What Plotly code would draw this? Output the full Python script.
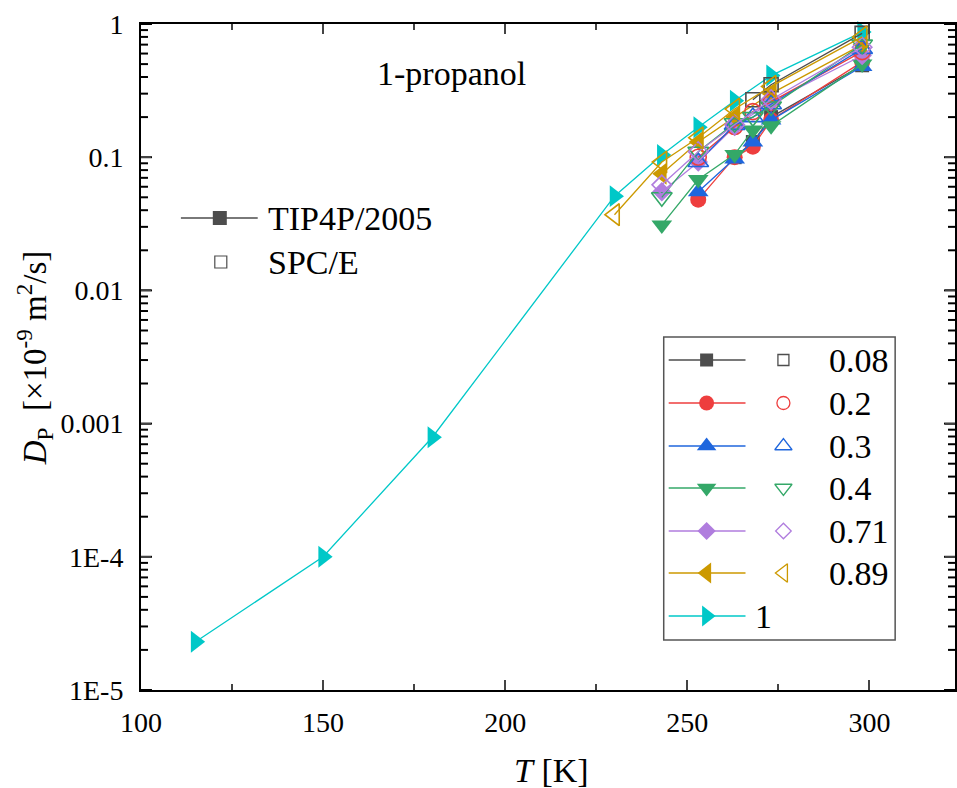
import math
import plotly.graph_objects as go

# ---------------- data ----------------
fractions = ["0.08", "0.2", "0.3", "0.4", "0.71", "0.89", "1"]
colors = ["#4D4D4D", "#EE3E3E", "#1F66DD", "#34A868", "#B07DDE", "#CC9900", "#00C8C8"]
sym_filled = ["square", "circle", "triangle-up", "triangle-down", "diamond", "triangle-left", "triangle-right"]
sym_open = ["square-open", "circle-open", "triangle-up-open", "triangle-down-open", "diamond-open", "triangle-left-open", "triangle-right-open"]
msizes = [14, 16, 18, 18, 15, 19, 19]

# TIP4P/2005 (filled)
T_tip_008 = [263, 268, 273, 298]
D_tip_008 = [0.10, 0.13, 0.20, 0.49]
T_tip_02 = [253, 263, 268, 273, 298]
D_tip_02 = [0.048, 0.100, 0.120, 0.19, 0.52]
T_tip_03 = [253, 263, 268, 273, 298]
D_tip_03 = [0.055, 0.097, 0.130, 0.19, 0.48]
T_tip_04 = [243, 253, 263, 268, 273, 298]
D_tip_04 = [0.031, 0.068, 0.105, 0.160, 0.172, 0.50]
T_tip_071 = [243, 253, 263, 273, 298]
D_tip_071 = [0.055, 0.092, 0.17, 0.26, 0.58]
T_tip_089 = [243, 253, 263, 273, 298]
D_tip_089 = [0.075, 0.13, 0.20, 0.30, 0.70]
T_tip_1 = [115, 150, 180, 230, 243, 253, 263, 273, 298]
D_tip_1 = [2.3e-5, 1.0e-4, 7.9e-4, 0.051, 0.104, 0.168, 0.265, 0.41, 0.87]

# SPC/E (open)
T_spc_008 = [268, 273, 298]
D_spc_008 = [0.27, 0.35, 0.85]
T_spc_02 = [253, 263, 268, 273, 298]
D_spc_02 = [0.100, 0.170, 0.22, 0.26, 0.62]
T_spc_03 = [253, 263, 268, 273, 298]
D_spc_03 = [0.092, 0.175, 0.20, 0.25, 0.65]
T_spc_04 = [243, 253, 263, 268, 273, 298]
D_spc_04 = [0.050, 0.110, 0.180, 0.20, 0.24, 0.70]
T_spc_071 = [243, 253, 263, 273, 298]
D_spc_071 = [0.062, 0.110, 0.175, 0.27, 0.67]
T_spc_089 = [230, 243, 253, 263, 273, 298]
D_spc_089 = [0.037, 0.092, 0.14, 0.23, 0.34, 0.80]

tip_T = [T_tip_008, T_tip_02, T_tip_03, T_tip_04, T_tip_071, T_tip_089, T_tip_1]
tip_D = [D_tip_008, D_tip_02, D_tip_03, D_tip_04, D_tip_071, D_tip_089, D_tip_1]
spc_T = [T_spc_008, T_spc_02, T_spc_03, T_spc_04, T_spc_071, T_spc_089]
spc_D = [D_spc_008, D_spc_02, D_spc_03, D_spc_04, D_spc_071, D_spc_089]

x_ticks = [100, 150, 200, 250, 300]
y_ticks = [1e-5, 1e-4, 1e-3, 1e-2, 1e-1, 1]
y_ticktext = ["1E-5", "1E-4", "0.001", "0.01", "0.1", "1"]
y_minor = [m * 10.0 ** e for e in range(-5, 0) for m in range(2, 10)]

FONT = "Liberation Serif, Times New Roman, serif"
W, H = 957, 788
L, R, T, B = 141, 0, 24, 98
PW, PH = W - L - R, H - T - B
Y_LOG_MIN, Y_LOG_MAX = -5, 0


def px_x(p):
    return (p - L) / PW


def px_y(p):
    return (H - B - p) / PH


def val_to_py(v):
    return T + (Y_LOG_MAX - math.log10(v)) / (Y_LOG_MAX - Y_LOG_MIN) * PH


fig = go.Figure()

# ---------- y-axis tick marks (major + minor, left + mirrored right) ----------
tx, ty = [], []
for v in y_ticks + y_minor:
    ln = 11 if v in y_ticks else 7
    py = val_to_py(v)
    tx += [L, L + ln, None, W - R - ln, W - R, None]
    ty += [py, py, None, py, py, None]
fig.add_trace(go.Scatter(x=tx, y=ty, xaxis="x2", yaxis="y2", mode="lines",
                         line=dict(color="black", width=2), showlegend=False,
                         hoverinfo="skip", cliponaxis=False, connectgaps=False))

for i in range(len(tip_T)):
    fig.add_trace(go.Scatter(
        x=tip_T[i], y=tip_D[i], mode="lines+markers",
        line=dict(color=colors[i], width=1.3),
        marker=dict(symbol=sym_filled[i], size=msizes[i], color=colors[i], opacity=1, line=dict(width=0)),
        showlegend=False, cliponaxis=False))
for i in range(len(spc_T)):
    fig.add_trace(go.Scatter(
        x=spc_T[i], y=spc_D[i], mode="lines+markers",
        line=dict(color=colors[i], width=1.3),
        marker=dict(symbol=sym_open[i], size=msizes[i], color=colors[i], line=dict(width=1.6, color=colors[i])),
        showlegend=False, cliponaxis=False))

# ---------- manual legends on a pixel overlay axis ----------
row_y = [360, 403, 446, 488, 531, 573, 616]
for i in range(7):
    fig.add_trace(go.Scatter(
        x=[670, 747], y=[row_y[i]] * 2, xaxis="x2", yaxis="y2",
        mode="lines", line=dict(color=colors[i], width=1.3),
        showlegend=False, hoverinfo="skip"))
    fig.add_trace(go.Scatter(
        x=[708], y=[row_y[i]], xaxis="x2", yaxis="y2", mode="markers",
        marker=dict(symbol=sym_filled[i], size=msizes[i] - 1, color=colors[i], opacity=1, line=dict(width=0)),
        showlegend=False, hoverinfo="skip"))
    if i < 6:
        fig.add_trace(go.Scatter(
            x=[785], y=[row_y[i]], xaxis="x2", yaxis="y2", mode="markers",
            marker=dict(symbol=sym_open[i], size=msizes[i] - 3, color=colors[i], line=dict(width=1.3, color=colors[i])),
            showlegend=False, hoverinfo="skip"))
        fig.add_annotation(x=829, y=row_y[i], xref="x2", yref="y2", text=fractions[i],
                           showarrow=False, xanchor="left", yanchor="middle",
                           font=dict(family=FONT, size=34, color="black"))
    else:
        fig.add_annotation(x=754, y=row_y[i], xref="x2", yref="y2", text=fractions[i],
                           showarrow=False, xanchor="left", yanchor="middle",
                           font=dict(family=FONT, size=34, color="black"))

fig.add_shape(type="rect", xref="x2", yref="y2", x0=665, x1=897, y0=337, y1=640,
              line=dict(color="#555555", width=1.5), fillcolor="rgba(0,0,0,0)")

# model legend
fig.add_trace(go.Scatter(
    x=[181, 258], y=[218] * 2, xaxis="x2", yaxis="y2", mode="lines",
    line=dict(color="#4D4D4D", width=1.3), showlegend=False, hoverinfo="skip"))
fig.add_trace(go.Scatter(
    x=[220], y=[218], xaxis="x2", yaxis="y2", mode="markers",
    marker=dict(symbol="square", size=14, color="#4D4D4D", opacity=1, line=dict(width=0)),
    showlegend=False, hoverinfo="skip"))
fig.add_trace(go.Scatter(
    x=[221], y=[262], xaxis="x2", yaxis="y2", mode="markers",
    marker=dict(symbol="square-open", size=12, color="#4D4D4D", line=dict(width=1.2, color="#4D4D4D")),
    showlegend=False, hoverinfo="skip"))
fig.add_annotation(x=266, y=218, xref="x2", yref="y2", text="TIP4P/2005", showarrow=False,
                   xanchor="left", yanchor="middle", font=dict(family=FONT, size=34, color="black"))
fig.add_annotation(x=266, y=262, xref="x2", yref="y2", text="SPC/E", showarrow=False,
                   xanchor="left", yanchor="middle", font=dict(family=FONT, size=34, color="black"))

fig.add_annotation(x=452, y=73, xref="x2", yref="y2", text="1-propanol", showarrow=False,
                   xanchor="center", yanchor="middle", font=dict(family=FONT, size=34, color="black"))

# axis titles (paper coordinates)
fig.add_annotation(x=px_x(553), y=px_y(770), xref="paper", yref="paper", text="<i>T</i> [K]",
                   showarrow=False, xanchor="center", yanchor="middle",
                   font=dict(family=FONT, size=34, color="black"))
fig.add_annotation(x=px_x(34), y=px_y(358), xref="paper", yref="paper",
                   text="<i>D</i><sub>P</sub>  [×10<sup>-9</sup> m<sup>2</sup>/s]",
                   textangle=-90, showarrow=False, xanchor="center", yanchor="middle",
                   font=dict(family=FONT, size=33, color="black"))

fig.update_layout(
    width=W, height=H,
    margin=dict(l=L, r=R, t=T, b=B),
    paper_bgcolor="white", plot_bgcolor="white",
    font=dict(family=FONT, color="black"),
    xaxis=dict(range=[100, 323.5], tickvals=x_ticks, ticks="inside", ticklen=10, tickwidth=2,
               showline=True, linewidth=2, linecolor="black", mirror="ticks", showgrid=False,
               zeroline=False, tickfont=dict(family=FONT, size=28, color="black"),
               ticklabelstandoff=6,
               minor=dict(ticks="inside", ticklen=6, tickwidth=2, dtick=25, tick0=100, showgrid=False)),
    yaxis=dict(type="log", range=[Y_LOG_MIN, Y_LOG_MAX], tickvals=y_ticks, ticktext=y_ticktext,
               ticks="inside", ticklen=10, tickwidth=2, showline=True, linewidth=2,
               linecolor="black", mirror="ticks", showgrid=False, zeroline=False,
               tickfont=dict(family=FONT, size=28, color="black"), ticklabelstandoff=10),
    xaxis2=dict(range=[L, W - R], overlaying="x", visible=False, fixedrange=True),
    yaxis2=dict(range=[H - B, T], overlaying="y", visible=False, fixedrange=True),
    showlegend=False,
)

fig.write_html("out.html")
